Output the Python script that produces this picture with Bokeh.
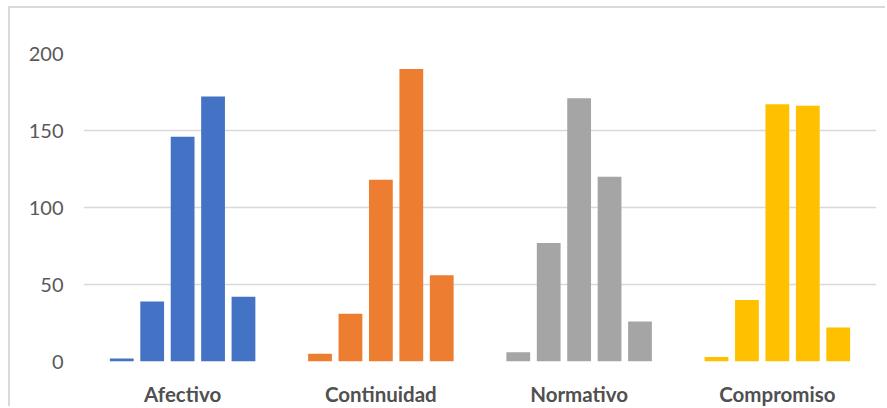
from bokeh.plotting import figure
from bokeh.models import ColumnDataSource, FactorRange, Range1d, FixedTicker
from bokeh.transform import dodge
from bokeh.embed import file_html
from bokeh.resources import INLINE

categories = ["Afectivo", "Continuidad", "Normativo", "Compromiso"]
colors = ["#4472C4", "#ED7D31", "#A5A5A5", "#FFC000"]
afectivo = [2, 39, 146, 172, 42]
continuidad = [5, 31, 118, 190, 56]
normativo = [6, 77, 171, 120, 26]
compromiso = [3, 40, 167, 166, 22]
y_ticks = [0, 50, 100, 150, 200]

rows = [afectivo, continuidad, normativo, compromiso]
data = {"cat": categories, "color": colors}
for k in range(5):
    data["v%d" % k] = [r[k] for r in rows]
source = ColumnDataSource(data)

p = figure(x_range=FactorRange(*categories), y_range=Range1d(0, 200),
           width=877, height=400, output_backend="svg", toolbar_location=None,
           min_border_left=73, min_border_right=11, min_border_top=45, min_border_bottom=47)

step = 0.1535
for k in range(5):
    p.vbar(x=dodge("cat", (k - 2) * step, range=p.x_range), top="v%d" % k, width=0.12,
           bottom=0, source=source, fill_color="color", line_color=None)

p.outline_line_color = None
p.xgrid.grid_line_color = None
p.ygrid.grid_line_color = "#d9d9d9"
p.ygrid.grid_line_width = 1.5
p.yaxis.ticker = FixedTicker(ticks=y_ticks)
p.yaxis.axis_line_color = None
p.yaxis.major_tick_line_color = None
p.yaxis.minor_tick_line_color = None
p.yaxis.major_tick_out = 0
p.yaxis.major_label_standoff = 20
p.yaxis.major_label_text_font = "Lato"
p.yaxis.major_label_text_font_size = "20px"
p.yaxis.major_label_text_color = "#595959"

p.xaxis.axis_line_color = None
p.xaxis.major_tick_line_color = None
p.xaxis.major_tick_out = 0
p.xaxis.major_label_standoff = 20
p.xaxis.major_label_text_font = "Lato"
p.xaxis.major_label_text_font_style = "bold"
p.xaxis.major_label_text_font_size = "20.5px"
p.xaxis.major_label_text_color = "#505050"

p.styles = {"border-top": "2px solid #d9d9d9", "border-left": "2px solid #d9d9d9",
            "margin-left": "8px", "margin-top": "6px"}

open("out.html", "w").write(file_html(p, INLINE))
